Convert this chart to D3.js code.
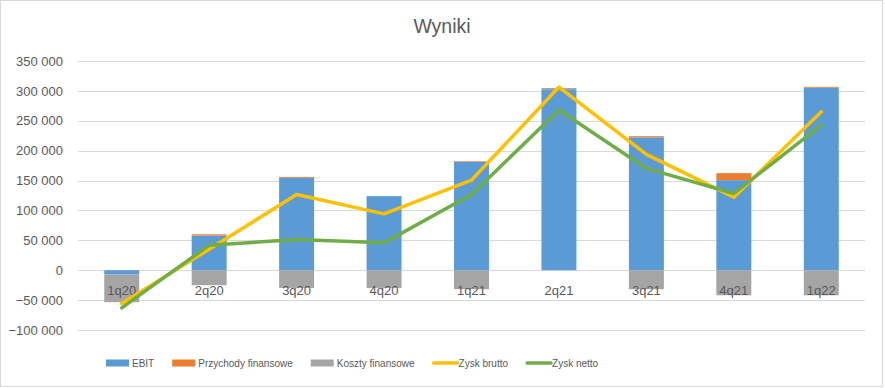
<!DOCTYPE html>
<html>
<head>
<meta charset="utf-8">
<script src="https://cdn.jsdelivr.net/npm/d3@7"></script>
<style>
  body { margin: 0; background: #fff; }
  text { font-family: "Liberation Sans", Arial, sans-serif; fill: #595959; }
</style>
</head>
<body>
<svg id="chart" width="885" height="388"></svg>
<script>
// data
var quarters = ["1q20", "2q20", "3q20", "4q20", "1q21", "2q21", "3q21", "4q21", "1q22"];
var ebit = [-7200, 58100, 154600, 123900, 181400, 301400, 222200, 150700, 305300];
var przychody = [0, 2000, 1500, 0, 1000, 0, 2000, 11700, 1500];
var koszty = [-46300, -25100, -29600, -29600, -31800, 3500, -31800, -41900, -41900];
var zyskBrutto = [-55800, 35200, 126700, 94300, 150700, 306400, 193700, 122200, 265100];
var zyskNetto = [-63000, 41900, 51400, 45800, 126700, 267900, 170300, 128400, 242800];
var yTicks = [-100000, -50000, 0, 50000, 100000, 150000, 200000, 250000, 300000, 350000];

var barKeys = ["EBIT", "Przychody finansowe", "Koszty finansowe"];
var barColors = { "EBIT": "#5B9BD5", "Przychody finansowe": "#ED7D31", "Koszty finansowe": "#A5A5A5" };
var lineSeries = [
  { name: "Zysk brutto", values: zyskBrutto, color: "#FFC000" },
  { name: "Zysk netto", values: zyskNetto, color: "#70AD47" }
];

var svg = d3.select("#chart");
var W = 885, H = 388;
var plot = { left: 78, right: 865, top: 61, bottom: 330 };

// chart border
svg.append("rect")
  .attr("x", 0.5).attr("y", 0.5)
  .attr("width", W - 3).attr("height", H - 2)
  .attr("fill", "none").attr("stroke", "#D9D9D9");

var x = d3.scaleBand().domain(quarters).range([plot.left, plot.right]).padding(0);
var y = d3.scaleLinear().domain([-100000, 350000]).range([plot.bottom, plot.top]);
var barW = x.bandwidth() * 0.4;

// title
svg.append("text")
  .attr("x", 442).attr("y", 33)
  .attr("text-anchor", "middle")
  .attr("font-size", "19.5px")
  .text("Wyniki");

// gridlines
svg.append("g")
  .selectAll("line")
  .data(yTicks)
  .enter()
  .append("line")
  .attr("x1", plot.left).attr("x2", plot.right)
  .attr("y1", function (d) { return Math.round(y(d)) + 0.5; })
  .attr("y2", function (d) { return Math.round(y(d)) + 0.5; })
  .attr("stroke", "#D9D9D9");

// y axis labels
var yAxis = d3.axisLeft(y)
  .tickValues(yTicks)
  .tickSize(0)
  .tickPadding(0)
  .tickFormat(function (d) { return d3.format(",")(d).replace(/,/g, " "); });
var yg = svg.append("g").attr("transform", "translate(63,0)").call(yAxis);
yg.select(".domain").remove();
yg.selectAll("text").attr("font-size", "13px").attr("fill", "#595959")
  .attr("font-family", "'Liberation Sans', Arial, sans-serif");

// stacked bars
var rows = quarters.map(function (q, i) {
  return { q: q, "EBIT": ebit[i], "Przychody finansowe": przychody[i], "Koszty finansowe": koszty[i] };
});
var stacked = d3.stack().keys(barKeys).offset(d3.stackOffsetDiverging)(rows);

svg.append("g")
  .selectAll("g")
  .data(stacked)
  .enter()
  .append("g")
  .attr("fill", function (d) { return barColors[d.key]; })
  .selectAll("rect")
  .data(function (d) { return d; })
  .enter()
  .append("rect")
  .attr("x", function (d) { return x(d.data.q) + (x.bandwidth() - barW) / 2; })
  .attr("width", barW)
  .attr("y", function (d) { return y(Math.max(d[0], d[1])); })
  .attr("height", function (d) { return Math.abs(y(d[0]) - y(d[1])); });

// category labels sit just under zero line
svg.append("g")
  .selectAll("text")
  .data(quarters)
  .enter()
  .append("text")
  .attr("x", function (d) { return x(d) + x.bandwidth() / 2; })
  .attr("y", y(0) + 25)
  .attr("text-anchor", "middle")
  .attr("font-size", "13px")
  .text(function (d) { return d; });

// lines
var line = d3.line()
  .x(function (d, i) { return x(quarters[i]) + x.bandwidth() / 2; })
  .y(function (d) { return y(d); });

svg.append("g")
  .selectAll("path")
  .data(lineSeries)
  .enter()
  .append("path")
  .attr("d", function (d) { return line(d.values); })
  .attr("fill", "none")
  .attr("stroke", function (d) { return d.color; })
  .attr("stroke-width", 3.5)
  .attr("stroke-linejoin", "round")
  .attr("stroke-linecap", "round");

// legend, flowed left to right
var legendItems = barKeys.map(function (k) { return { name: k, color: barColors[k], type: "bar" }; })
  .concat(lineSeries.map(function (s) { return { name: s.name, color: s.color, type: "line" }; }));
var lx = 106, ly = 363;
legendItems.forEach(function (it) {
  var g = svg.append("g");
  var sw = it.type === "bar" ? 23 : 26;
  if (it.type === "bar") {
    g.append("rect").attr("x", lx).attr("y", ly - 3.5).attr("width", sw).attr("height", 7).attr("fill", it.color);
  } else {
    g.append("line").attr("x1", lx + 1).attr("x2", lx + sw - 1).attr("y1", ly).attr("y2", ly)
      .attr("stroke", it.color).attr("stroke-width", 3.5).attr("stroke-linecap", "round");
  }
  var tx = lx + sw + (it.type === "bar" ? 3 : 0);
  var t = g.append("text").attr("x", tx).attr("y", ly + 3.6).attr("font-size", "10px").text(it.name);
  lx = tx + t.node().getComputedTextLength() + 18;
});
</script>
</body>
</html>
